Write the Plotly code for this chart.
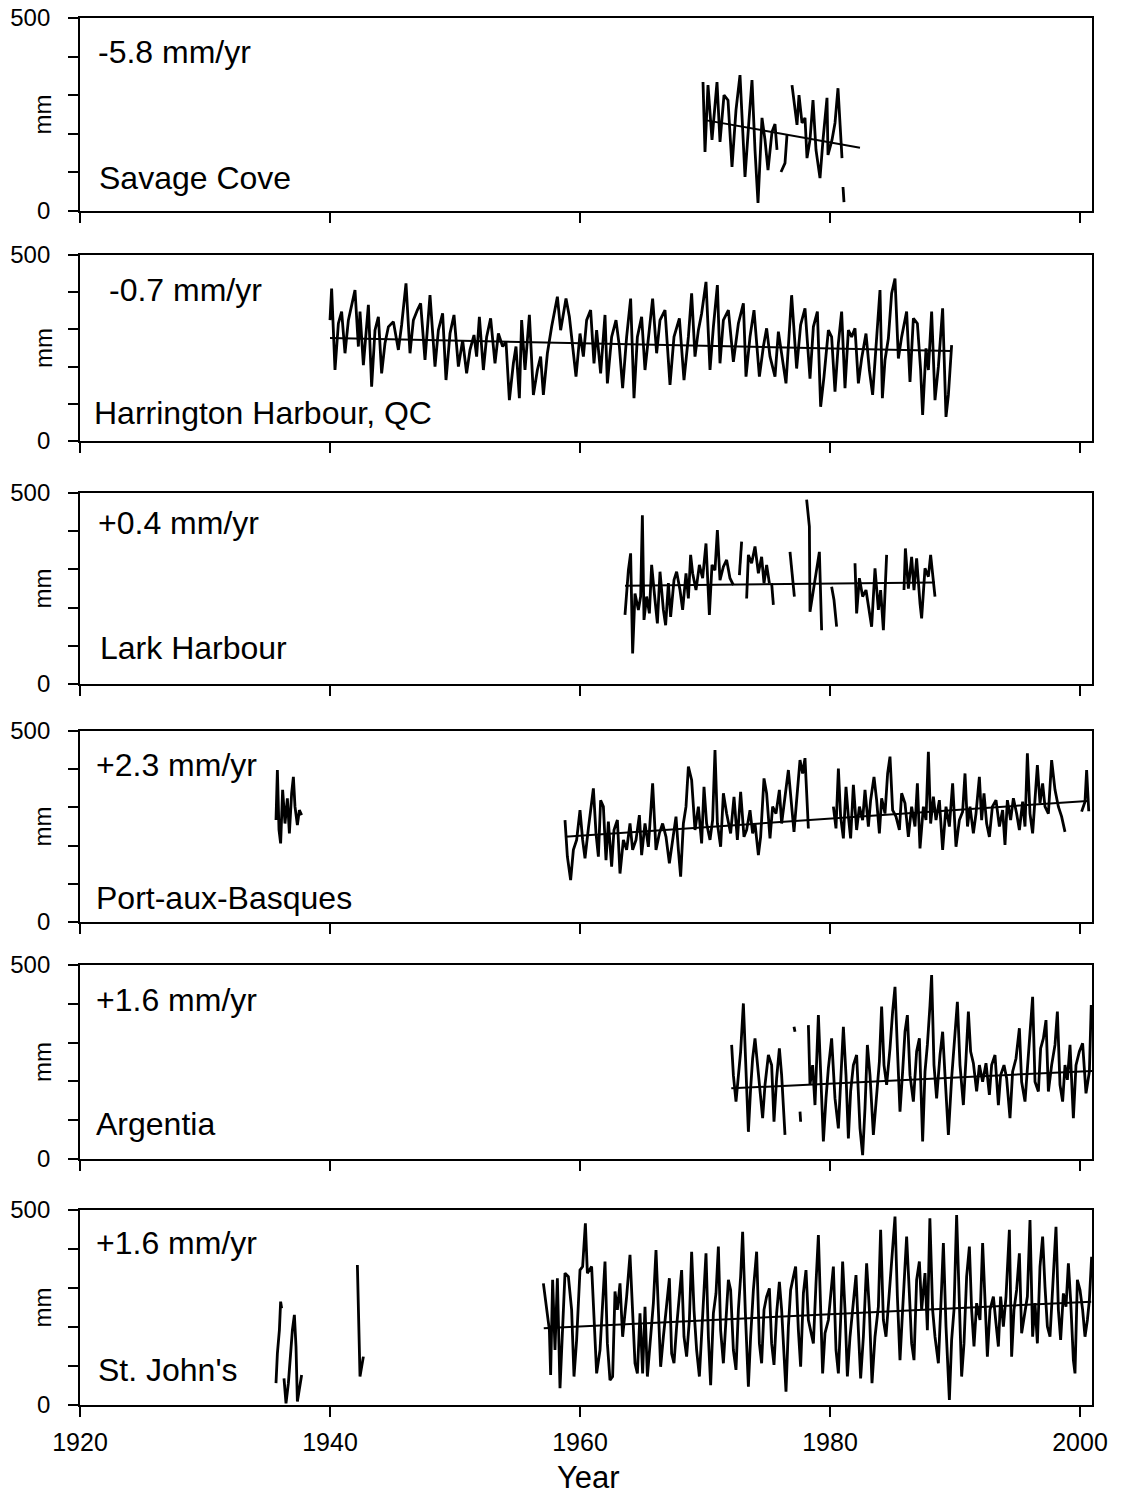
import plotly.graph_objects as go

FONT = "Liberation Sans, Arial, sans-serif"

# ---------------- Savage Cove ----------------
savage_years = [1969.84, 1970.0, 1970.24, 1970.56, 1970.96, 1971.2, 1971.52, 1971.84, 1972.16, 1972.48,
                1972.8, 1973.2, 1973.52, 1973.76, 1974.0, 1974.24, 1974.56, 1974.8, 1975.04, 1975.36,
                1975.6, 1975.76, None, 1976.08, 1976.4, 1976.56, None, 1976.96, 1977.36, 1977.52,
                1977.76, 1978.0, 1978.16, 1978.4, 1978.64, 1978.88, 1979.2, 1979.44, 1979.76, 1979.84,
                1980.16, 1980.4, 1980.64, 1980.96, None, 1981.04, 1981.12]
savage_mm = [334, 153, 326, 184, 334, 179, 300, 287, 114, 262,
             352, 88, 236, 339, 158, 21, 241, 184, 106, 205,
             225, 158, None, 101, 124, 197, None, 326, 223, 300,
             228, 241, 137, 184, 287, 158, 85, 184, 293, 145,
             184, 228, 318, 137, None, 62, 23]
savage_trend_years = [1969.9, 1982.4]
savage_trend_mm = [236, 164]

# ---------------- Harrington Harbour ----------------
harr_years = [1940.0, 1940.13, 1940.4, 1940.67, 1940.93, 1941.2, 1941.47, 1941.73, 1942.0, 1942.27,
              1942.4, 1942.67, 1943.07, 1943.33, 1943.6, 1943.87, 1944.13, 1944.4, 1944.67, 1945.07,
              1945.47, 1945.73, 1946.08, 1946.4, 1946.67, 1946.99, 1947.25, 1947.6, 1948.0, 1948.4,
              1948.67, 1949.01, 1949.28, 1949.6, 1949.92, 1950.27, 1950.61, 1950.93, 1951.2, 1951.52,
              1951.73, 1951.95, 1952.27, 1952.53, 1952.85, 1953.2, 1953.47, 1953.81, 1954.08, 1954.35,
              1954.67, 1954.88, 1955.15, 1955.33, 1955.6, 1955.95, 1956.27, 1956.59, 1956.85, 1957.07,
              1957.39, 1957.73, 1958.19, 1958.45, 1958.88, 1959.15, 1959.41, 1959.68, 1960.0, 1960.27,
              1960.53, 1960.85, 1961.12, 1961.33, 1961.65, 1962.0, 1962.19, 1962.53, 1962.88, 1963.15,
              1963.41, 1963.73, 1964.05, 1964.32, 1964.59, 1964.93, 1965.2, 1965.47, 1965.81, 1966.13,
              1966.4, 1966.8, 1967.2, 1967.52, 1967.95, 1968.32, 1968.67, 1968.93, 1969.2, 1969.47,
              1969.73, 1970.08, 1970.4, 1970.67, 1970.99, 1971.2, 1971.47, 1971.87, 1972.27, 1972.67,
              1973.07, 1973.28, 1973.6, 1973.92, 1974.35, 1974.67, 1974.93, 1975.2, 1975.6, 1975.87,
              1976.13, 1976.48, 1976.93, 1977.33, 1977.65, 1978.0, 1978.4, 1978.67, 1978.99, 1979.25,
              1979.52, 1979.87, 1980.13, 1980.4, 1980.67, 1980.93, 1981.2, 1981.47, 1981.73, 1982.0,
              1982.27, 1982.53, 1982.88, 1983.15, 1983.41, 1983.73, 1984.0, 1984.19, 1984.4, 1984.67,
              1984.93, 1985.2, 1985.47, 1985.73, 1986.13, 1986.4, 1986.67, 1986.99, 1987.25, 1987.41,
              1987.68, 1987.87, 1988.13, 1988.4, 1988.67, 1989.01, 1989.28, 1989.47, 1989.65, 1989.73]
harr_mm = [325, 410, 191, 316, 348, 236, 325, 361, 406, 254,
           348, 204, 366, 146, 298, 334, 182, 263, 307, 321,
           245, 312, 424, 236, 325, 352, 370, 218, 392, 200,
           298, 343, 164, 289, 339, 200, 271, 182, 245, 285,
           227, 334, 191, 280, 330, 209, 289, 254, 267, 110,
           209, 254, 115, 325, 191, 339, 124, 191, 227, 124,
           236, 307, 388, 298, 383, 334, 245, 173, 289, 227,
           325, 352, 209, 298, 182, 339, 155, 280, 325, 254,
           142, 280, 383, 115, 280, 334, 191, 280, 383, 236,
           325, 352, 151, 280, 330, 164, 280, 397, 227, 298,
           343, 428, 191, 307, 419, 209, 325, 352, 213, 316,
           370, 173, 280, 352, 173, 254, 303, 227, 173, 294,
           236, 155, 392, 195, 312, 357, 168, 307, 348, 92,
           173, 298, 280, 133, 263, 348, 142, 298, 280, 303,
           155, 222, 289, 191, 124, 271, 406, 115, 218, 276,
           397, 437, 222, 280, 348, 159, 330, 316, 191, 70,
           249, 191, 348, 110, 200, 357, 65, 124, 227, 258]
harr_trend_years = [1940.0, 1989.7]
harr_trend_mm = [277, 242]

# ---------------- Lark Harbour ----------------
lark_years = [1963.6, 1963.87, 1964.05, 1964.21, 1964.4, 1964.67, 1964.85, 1964.99, 1965.12, 1965.33,
              1965.55, 1965.73, 1966.0, 1966.19, 1966.4, 1966.67, 1966.85, 1967.07, 1967.25, 1967.52,
              1967.73, 1968.0, 1968.21, 1968.48, 1968.67, 1968.85, 1969.01, 1969.28, 1969.55, 1969.81,
              1970.08, 1970.35, 1970.56, 1970.8, 1970.99, 1971.2, 1971.47, 1971.73, 1972.0, 1972.27,
              None, 1972.75, 1972.93, None,
              1973.33, 1973.47, 1973.73, 1974.0, 1974.27, 1974.53, 1974.72, 1974.93, 1975.15, None,
              1975.33, 1975.47, None, 1976.8, 1977.15, None,
              1978.13, 1978.35, 1978.4, 1978.72, 1978.93, 1979.15, 1979.33, None,
              1980.13, 1980.32, 1980.53, None,
              1982.0, 1982.13, 1982.35, 1982.61, 1982.88, 1983.07, 1983.33, 1983.6, 1983.87, 1984.05,
              1984.27, 1984.53, None,
              1985.92, 1986.03, 1986.27, 1986.53, 1986.72, 1986.93, 1987.2, 1987.33, 1987.6, 1987.87,
              1988.05, 1988.27, 1988.4]
lark_mm = [181, 298, 342, 80, 237, 194, 229, 442, 168, 229,
           185, 312, 220, 159, 294, 194, 154, 264, 176, 272,
           294, 246, 194, 290, 224, 338, 290, 246, 312, 277,
           368, 181, 312, 298, 403, 272, 307, 325, 277, 259,
           None, 285, 373, None,
           224, 338, 316, 360, 290, 333, 264, 312, 264, None,
           264, 207, None, 346, 229, None,
           483, 412, 189, 255, 298, 346, 141, None,
           255, 220, 150, None,
           316, 185, 277, 229, 246, 207, 150, 303, 194, 246,
           141, 338, None,
           246, 355, 250, 333, 246, 329, 211, 172, 303, 281,
           338, 268, 229]
lark_trend_years = [1963.6, 1988.4]
lark_trend_mm = [257, 266]

# ---------------- Port-aux-Basques ----------------
pab_years = [1935.68, 1935.79, 1935.92, 1936.05, 1936.21, 1936.4, 1936.59, 1936.75, 1936.93, 1937.07,
             1937.2, 1937.39, 1937.55, 1937.73, None,
             1958.8, 1958.99, 1959.25, 1959.47, 1959.73, 1960.0, 1960.21, 1960.4, 1960.67, 1960.85,
             1961.07, 1961.28, 1961.47, 1961.65, 1961.87, 1962.08, 1962.27, 1962.53, 1962.72, 1962.99,
             1963.2, 1963.47, 1963.73, 1964.0, 1964.21, 1964.48, 1964.75, 1964.93, 1965.2, 1965.47,
             1965.65, 1965.81, 1966.08, 1966.35, 1966.61, 1966.88, 1967.15, 1967.41, 1967.68, 1967.87,
             1968.05, 1968.27, 1968.48, 1968.67, 1968.93, 1969.2, 1969.47, 1969.73, 1969.92, 1970.13,
             1970.4, 1970.61, 1970.8, 1970.99, 1971.25, 1971.47, 1971.73, 1972.05, 1972.32, 1972.59,
             1972.85, 1973.12, 1973.33, 1973.6, 1973.81, 1974.0, 1974.27, 1974.45, 1974.72, 1974.93,
             1975.2, 1975.41, 1975.68, 1975.95, 1976.13, 1976.67, 1977.12, 1977.6, 1977.81, 1978.0,
             1978.19, 1978.27, None,
             1980.27, 1980.48, 1980.67, 1980.85, 1981.07, 1981.28, 1981.47, 1981.65, 1981.87, 1982.13,
             1982.35, 1982.61, 1982.8, 1983.07, 1983.25, 1983.52, 1983.73, 1983.95, 1984.13, 1984.4,
             1984.61, 1984.8, 1985.01, 1985.28, 1985.55, 1985.73, 1986.0, 1986.27, 1986.53, 1986.8,
             1986.99, 1987.2, 1987.47, 1987.68, 1987.87, 1988.05, 1988.27, 1988.48, 1988.75, 1989.01,
             1989.28, 1989.55, 1989.81, 1990.08, 1990.35, 1990.61, 1990.8, 1991.0, 1991.2, 1991.47,
             1991.68, 1991.95, 1992.13, 1992.32, 1992.53, 1992.75, 1992.99, 1993.28, 1993.55, 1993.81,
             1994.0, 1994.19, 1994.45, 1994.67, 1994.93, 1995.15, 1995.41, 1995.6, 1995.79, 1996.0,
             1996.21, 1996.4, 1996.59, 1996.8, 1997.01, 1997.2, 1997.47, 1997.73, 1998.0, 1998.27,
             1998.53, 1998.8, None,
             2000.13, 2000.4, 2000.53, 2000.7]
pab_mm = [267, 398, 241, 206, 346, 258, 324, 232, 337, 380,
          302, 254, 293, 280, None,
          267, 171, 110, 189, 215, 293, 215, 167, 245, 293,
          350, 232, 171, 319, 302, 162, 263, 145, 241, 267,
          127, 215, 189, 258, 189, 215, 280, 175, 258, 197,
          284, 363, 189, 232, 258, 223, 154, 215, 276, 189,
          119, 258, 302, 407, 372, 241, 302, 206, 354, 258,
          215, 267, 450, 258, 197, 337, 284, 232, 328, 215,
          341, 223, 241, 293, 232, 258, 175, 223, 376, 337,
          219, 302, 284, 346, 258, 398, 236, 424, 389, 429,
          302, 245, None,
          302, 245, 402, 276, 219, 354, 276, 219, 359, 241,
          302, 267, 346, 250, 319, 380, 319, 232, 324, 284,
          389, 433, 293, 276, 241, 337, 311, 223, 302, 250,
          363, 193, 302, 267, 446, 258, 328, 267, 319, 189,
          302, 250, 363, 197, 267, 289, 389, 250, 302, 232,
          284, 380, 267, 337, 258, 223, 302, 319, 250, 293,
          202, 319, 267, 324, 284, 241, 315, 250, 442, 284,
          232, 328, 411, 311, 363, 302, 284, 424, 346, 302,
          276, 236, None,
          289, 315, 398, 290]
pab_trend_years = [1958.8, 2000.6]
pab_trend_mm = [223, 317]

# ---------------- Argentia ----------------
arg_years = [1972.13, 1972.27, 1972.48, 1972.67, 1972.85, 1973.07, 1973.28, 1973.47, 1973.65, 1973.81,
             1974.0, 1974.19, 1974.4, 1974.61, 1974.8, 1975.07, 1975.33, 1975.52, 1975.73, 1975.95,
             1976.13, 1976.4, None, 1977.12, 1977.2, None, 1977.6, 1977.65, None,
             1978.27, 1978.4, 1978.61, 1978.8, 1979.07, 1979.25, 1979.47, 1979.68, 1979.87, 1980.13,
             1980.4, 1980.67, 1980.85, 1981.07, 1981.28, 1981.47, 1981.65, 1981.87, 1982.13, 1982.4,
             1982.61, 1982.8, 1982.99, 1983.2, 1983.47, 1983.73, 1983.95, 1984.13, 1984.32, 1984.53,
             1984.8, 1985.01, 1985.2, 1985.39, 1985.6, 1985.81, 1986.0, 1986.19, 1986.4, 1986.67,
             1986.93, 1987.15, 1987.41, 1987.6, 1987.79, 1988.0, 1988.13, 1988.32, 1988.53, 1988.8,
             1989.01, 1989.2, 1989.47, 1989.73, 1989.92, 1990.19, 1990.4, 1990.67, 1990.88, 1991.07,
             1991.25, 1991.47, 1991.73, 1991.95, 1992.21, 1992.48, 1992.75, 1992.93, 1993.2, 1993.47,
             1993.65, 1993.92, 1994.13, 1994.4, 1994.61, 1994.88, 1995.15, 1995.33, 1995.6, 1995.87,
             1996.21, 1996.4, 1996.67, 1996.85, 1997.07, 1997.28, 1997.47, 1997.73, 1998.0, 1998.19,
             1998.4, 1998.61, 1998.8, 1998.99, 1999.2, 1999.47, 1999.68, 1999.95, 2000.21, 2000.48,
             2000.75, 2000.9]
arg_mm = [294, 216, 148, 216, 277, 401, 242, 70, 182, 259,
          311, 242, 174, 105, 191, 268, 242, 96, 208, 285,
          216, 62, None, 341, 328, None, 122, 96, None,
          345, 191, 242, 139, 371, 242, 45, 156, 234, 311,
          156, 79, 191, 341, 216, 53, 174, 242, 268, 79,
          10, 131, 294, 216, 62, 156, 251, 393, 242, 191,
          285, 380, 444, 285, 122, 225, 328, 371, 216, 148,
          277, 311, 45, 225, 294, 397, 474, 242, 156, 268,
          328, 216, 62, 208, 285, 405, 242, 139, 259, 380,
          277, 247, 174, 242, 199, 247, 165, 242, 268, 139,
          216, 242, 208, 105, 225, 259, 337, 199, 148, 268,
          418, 199, 174, 285, 311, 358, 174, 242, 294, 380,
          191, 148, 242, 204, 294, 105, 242, 277, 298, 169,
          225, 397]
arg_trend_years = [1972.1, 2001.0]
arg_trend_mm = [182, 227]

# ---------------- St. John's ----------------
stj_years = [1935.68, 1935.79, 1935.95, 1936.05, 1936.13, None,
             1936.32, 1936.48, 1936.67, 1936.85, 1936.99, 1937.15, 1937.28, 1937.39, 1937.55, 1937.73, None,
             1942.19, 1942.29, 1942.4, 1942.67, None,
             1957.07, 1957.33, 1957.55, 1957.65, 1957.81, 1958.0, 1958.19, 1958.4, 1958.61, 1958.8,
             1959.07, 1959.33, 1959.52, 1959.73, 1960.0, 1960.21, 1960.43, 1960.59, 1960.93, 1961.07,
             1961.33, 1961.6, 1961.73, 1962.0, 1962.19, 1962.4, 1962.61, 1962.8, 1962.99, 1963.2,
             1963.41, 1963.73, 1964.0, 1964.21, 1964.4, 1964.59, 1964.8, 1965.01, 1965.2, 1965.39,
             1965.6, 1965.87, 1966.08, 1966.27, 1966.45, 1966.67, 1966.88, 1967.15, 1967.33, 1967.52,
             1967.73, 1967.95, 1968.13, 1968.32, 1968.53, 1968.75, 1968.93, 1969.12, 1969.33, 1969.55,
             1969.73, 1969.92, 1970.08, 1970.27, 1970.45, 1970.67, 1970.88, 1971.07, 1971.25, 1971.47,
             1971.68, 1971.87, 1972.05, 1972.27, 1972.48, 1972.67, 1972.85, 1973.01, 1973.23, 1973.47,
             1973.65, 1973.87, 1974.13, 1974.35, 1974.53, 1974.72, 1974.93, 1975.15, 1975.33, 1975.52,
             1975.73, 1975.95, 1976.13, 1976.32, 1976.48, 1976.67, 1976.85, 1977.07, 1977.25, 1977.47,
             1977.65, 1977.87, 1978.08, 1978.27, 1978.45, 1978.67, 1978.88, 1979.07,
             1979.41, 1979.6, 1979.87, 1980.05, 1980.27, 1980.48, 1980.67, 1980.85, 1981.01, 1981.2,
             1981.39, 1981.6, 1981.81, 1982.08, 1982.27, 1982.45, 1982.67, 1982.8, 1982.93, 1983.15,
             1983.36, 1983.6, 1983.87, 1984.05, 1984.27, 1984.48, 1984.93, 1985.2, 1985.39, 1985.6,
             1985.81, 1986.13, 1986.35, 1986.53, 1986.72, 1986.93, 1987.15, 1987.33, 1987.6, 1987.79,
             1987.99, 1988.21, 1988.4, 1988.67, 1988.93, 1989.07, 1989.28, 1989.55, 1989.73, 1989.92,
             1990.13, 1990.35, 1990.53, 1990.72, 1990.93, 1991.15, 1991.33, 1991.52, 1991.73, 1992.0,
             1992.21, 1992.4, 1992.59, 1992.8, 1993.07, 1993.28, 1993.47, 1993.65, 1993.87, 1994.08,
             1994.35, 1994.53, 1994.72, 1994.93, 1995.15, 1995.33, 1995.6, 1995.79, 1996.0, 1996.21,
             1996.4, 1996.59, 1996.8, 1997.01, 1997.2, 1997.39, 1997.6, 1997.81, 1998.08, 1998.27,
             1998.45, 1998.67, 1998.88, 1999.07, 1999.25, 1999.47, 1999.6, 1999.79, 2000.0, 2000.21,
             2000.4, 2000.59, 2000.75, 2000.93]
stj_mm = [56, 132, 192, 265, 248, None,
          68, 4, 56, 150, 192, 231, 150, 9, 38, 77, None,
          359, 226, 73, 124, None,
          312, 252, 192, 77, 321, 141, 325, 43, 184, 338,
          329, 244, 73, 167, 346, 355, 466, 338, 355, 269,
          81, 141, 218, 368, 158, 64, 73, 291, 244, 312,
          175, 278, 385, 218, 107, 81, 235, 81, 252, 73,
          150, 261, 397, 226, 98, 175, 244, 325, 132, 107,
          201, 278, 346, 175, 124, 218, 393, 244, 141, 73,
          192, 312, 389, 175, 51, 235, 286, 406, 192, 107,
          235, 321, 295, 141, 90, 244, 329, 444, 235, 47,
          175, 295, 393, 158, 107, 244, 278, 299, 158, 103,
          235, 316, 244, 132, 34, 201, 295, 329, 355, 192,
          98, 286, 346, 218, 192, 158, 312, 436,
          81, 184, 218, 278, 355, 141, 81, 218, 368, 244,
          73, 175, 244, 333, 192, 68, 175, 295, 363, 244,
          56, 175, 252, 449, 218, 175, 355, 483, 278, 115,
          244, 432, 286, 158, 115, 321, 368, 244, 338, 192,
          479, 244, 175, 107, 303, 415, 201, 13, 167, 244,
          487, 244, 73, 158, 329, 406, 244, 150, 261, 218,
          415, 269, 124, 244, 278, 209, 150, 278, 201, 278,
          449, 124, 244, 295, 389, 184, 244, 278, 474, 175,
          261, 158, 355, 432, 303, 201, 175, 312, 457, 244,
          167, 286, 252, 363, 269, 115, 81, 321, 295, 244,
          175, 218, 269, 380]
stj_trend_years = [1957.1, 2000.9]
stj_trend_mm = [197, 265]

# ---------------- labels ----------------
station_names = ["Savage Cove", "Harrington Harbour, QC", "Lark Harbour",
                 "Port-aux-Basques", "Argentia", "St. John's"]
trend_labels = ["-5.8 mm/yr", "-0.7 mm/yr", "+0.4 mm/yr", "+2.3 mm/yr", "+1.6 mm/yr", "+1.6 mm/yr"]
year_ticks = [1920, 1940, 1960, 1980, 2000]
mm_ticks = [0, 100, 200, 300, 400, 500]
mm_tick_text = ["0", "", "", "", "", "500"]

series = [
    (savage_years, savage_mm, savage_trend_years, savage_trend_mm),
    (harr_years, harr_mm, harr_trend_years, harr_trend_mm),
    (lark_years, lark_mm, lark_trend_years, lark_trend_mm),
    (pab_years, pab_mm, pab_trend_years, pab_trend_mm),
    (arg_years, arg_mm, arg_trend_years, arg_trend_mm),
    (stj_years, stj_mm, stj_trend_years, stj_trend_mm),
]
for name, (yy, vv, _, _) in zip(station_names, series):
    if len(yy) != len(vv):
        raise ValueError(f"{name}: {len(yy)} years vs {len(vv)} values")

# layout geometry (paper fractions)
domains = [[0.8609, 1.0], [0.6950, 0.8291], [0.5198, 0.6575],
           [0.3482, 0.4859], [0.1774, 0.3172], [0.0, 0.1406]]
rate_pos = [(0.0158, 0.824), (0.0267, 0.812), (0.0158, 0.843),
            (0.0138, 0.822), (0.0138, 0.820), (0.0138, 0.831)]
name_pos = [(0.0168, 0.171), (0.0118, 0.151), (0.0178, 0.188),
            (0.0138, 0.126), (0.0138, 0.180), (0.0158, 0.179)]

fig = go.Figure()
layout = dict(
    width=1123, height=1495,
    margin=dict(l=80, r=31, t=18, b=90, autoexpand=False),
    plot_bgcolor="white", paper_bgcolor="white",
    showlegend=False,
    font=dict(family=FONT, color="black"),
)
annotations = []
for i, (yy, vv, ty, tv) in enumerate(series):
    n = i + 1
    xs = "x" if n == 1 else f"x{n}"
    ys = "y" if n == 1 else f"y{n}"
    fig.add_trace(go.Scatter(x=yy, y=vv, mode="lines", xaxis=xs, yaxis=ys,
                             line=dict(color="black", width=2.8), connectgaps=False,
                             hoverinfo="skip"))
    fig.add_trace(go.Scatter(x=ty, y=tv, mode="lines", xaxis=xs, yaxis=ys,
                             line=dict(color="black", width=2), hoverinfo="skip"))
    xkey = "xaxis" if n == 1 else f"xaxis{n}"
    ykey = "yaxis" if n == 1 else f"yaxis{n}"
    layout[xkey] = dict(
        domain=[0, 1], range=[1920, 2000.96], anchor=ys, automargin=False,
        showline=True, linecolor="black", linewidth=1.8, mirror=True,
        ticks="outside", ticklen=10, tickwidth=1.8, tickcolor="black",
        tickvals=year_ticks, showticklabels=(n == 6),
        tickfont=dict(family=FONT, size=25, color="black"),
        ticklabelstandoff=4,
        showgrid=False, zeroline=False,
    )
    layout[ykey] = dict(
        domain=domains[i], range=[0, 500], anchor=xs, automargin=False,
        showline=True, linecolor="black", linewidth=1.8, mirror=True,
        ticks="outside", ticklen=10, tickwidth=1.8, tickcolor="black",
        tickvals=mm_ticks, ticktext=mm_tick_text,
        tickfont=dict(family=FONT, size=24, color="black"),
        ticklabelstandoff=13,
        showgrid=False, zeroline=False,
    )
    ydom = f"{ys} domain"
    annotations.append(dict(text=trend_labels[i], xref="paper", yref=ydom,
                            x=rate_pos[i][0], y=rate_pos[i][1], xanchor="left", yanchor="middle",
                            showarrow=False, font=dict(family=FONT, size=32, color="black")))
    annotations.append(dict(text=station_names[i], xref="paper", yref=ydom,
                            x=name_pos[i][0], y=name_pos[i][1], xanchor="left", yanchor="middle",
                            showarrow=False, font=dict(family=FONT, size=32, color="black")))
    annotations.append(dict(text="mm", xref="paper", yref=ydom, x=-0.0366, y=0.5,
                            xanchor="center", yanchor="middle", textangle=-90,
                            showarrow=False, font=dict(family=FONT, size=24, color="black")))

annotations.append(dict(text="Year", xref="paper", yref="paper", x=0.502, y=-0.0520,
                        xanchor="center", yanchor="middle", showarrow=False,
                        font=dict(family=FONT, size=31, color="black")))
layout["annotations"] = annotations
fig.update_layout(**layout)
fig.write_html("out.html")
